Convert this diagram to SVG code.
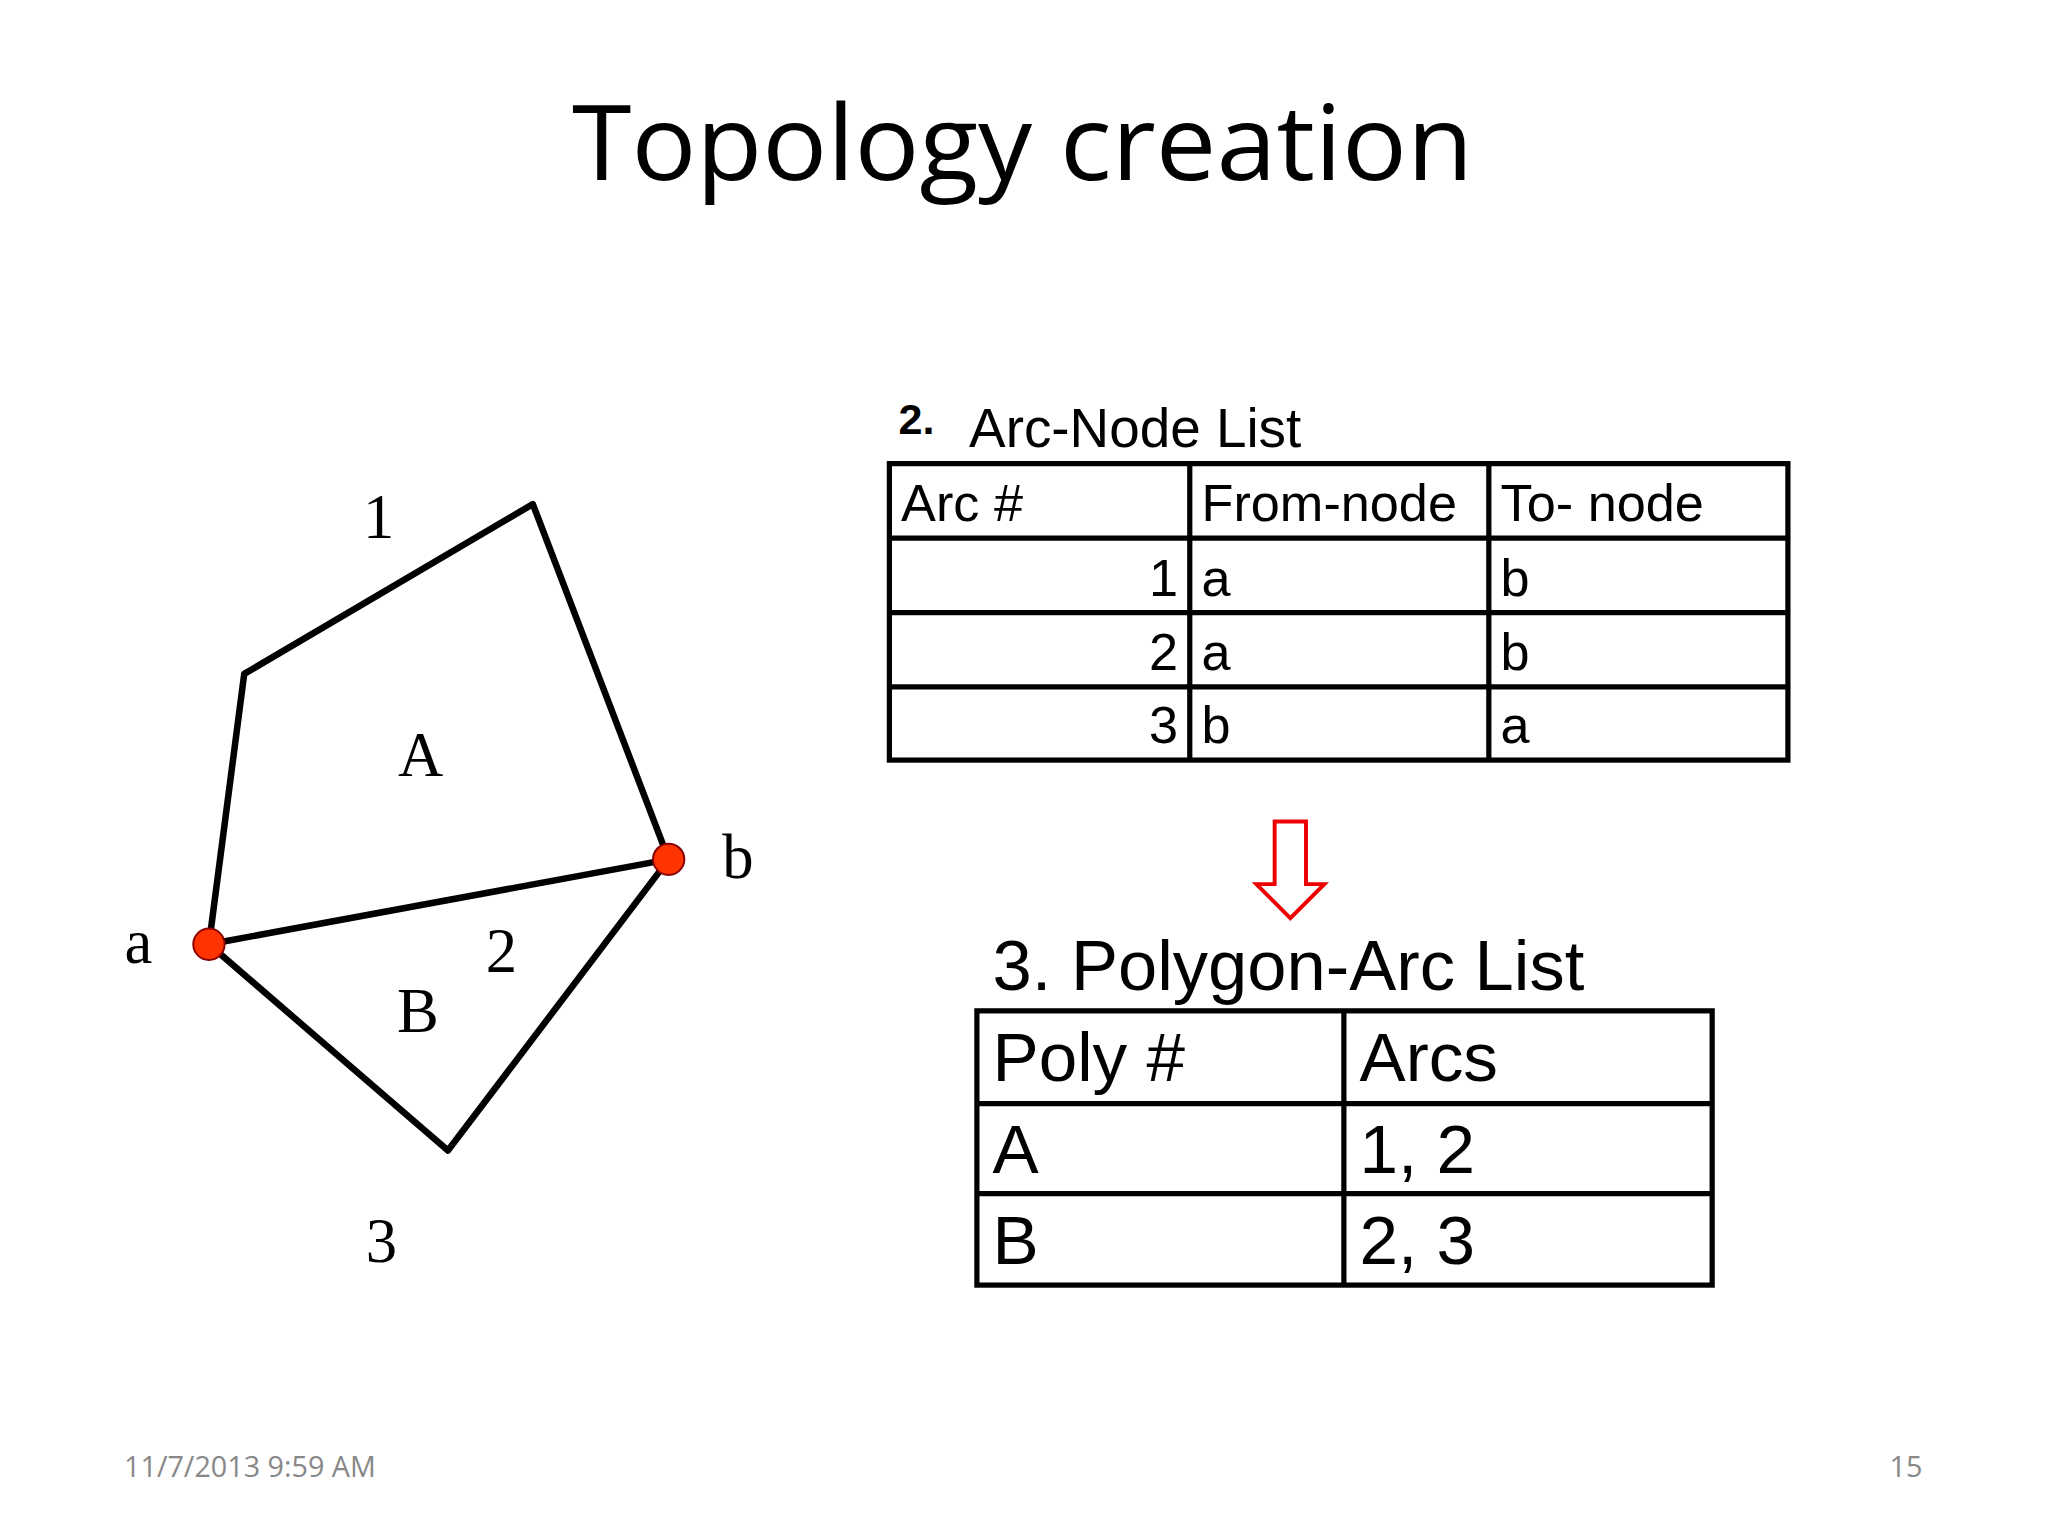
<svg xmlns="http://www.w3.org/2000/svg" width="2048" height="1536" viewBox="0 0 2048 1536">
<style>
.s{font-family:"Liberation Serif",serif;font-size:48px;fill:#000}
.t{font-family:"Liberation Sans",Arial,sans-serif;fill:#000}
.c{font-size:40px}
.d{font-size:53px}
.ln{stroke:#000;stroke-width:5;fill:none;stroke-linecap:round;stroke-linejoin:round}
.tb{stroke:#000;stroke-width:4;fill:none}
</style>
<rect width="2048" height="1536" fill="#fff"/>
<g transform="scale(1.306)">
<text x="783" y="138" text-anchor="middle" font-family="Open Sans, Liberation Sans, sans-serif" font-size="80" textLength="690" lengthAdjust="spacingAndGlyphs">Topology creation</text>
<g id="connectors">
<polyline class="ln" points="160,723 187,516 408,386 512,658 343,881 160,723"/>
<line class="ln" x1="160" y1="723" x2="512" y2="658"/>
</g>
<g id="node-a"><circle cx="160" cy="723" r="12" fill="#ff3300" stroke="#800" stroke-width="1.5"/><text class="s" x="106" y="737" text-anchor="middle">a</text></g>
<g id="node-b"><circle cx="512" cy="658" r="12" fill="#ff3300" stroke="#800" stroke-width="1.5"/><text class="s" x="565" y="672" text-anchor="middle">b</text></g>
<g id="labels">
<text class="s" x="290" y="412" text-anchor="middle">1</text>
<text class="s" x="322" y="594" text-anchor="middle">A</text>
<text class="s" x="384" y="744" text-anchor="middle">2</text>
<text class="s" x="320" y="790" text-anchor="middle">B</text>
<text class="s" x="292" y="966" text-anchor="middle">3</text>
</g>
<g id="arc-node-table">
<text class="t" x="688" y="332" font-size="33" font-weight="bold">2.</text>
<text class="t" x="742" y="342" font-size="42">Arc-Node List</text>
<rect class="tb" x="681" y="355" width="688" height="227"/>
<line class="tb" x1="911" y1="355" x2="911" y2="582"/>
<line class="tb" x1="1140" y1="355" x2="1140" y2="582"/>
<line class="tb" x1="681" y1="412" x2="1369" y2="412"/>
<line class="tb" x1="681" y1="469" x2="1369" y2="469"/>
<line class="tb" x1="681" y1="526" x2="1369" y2="526"/>
<g class="t c">
<text x="690" y="399">Arc #</text><text x="920" y="399">From-node</text><text x="1149" y="399">To- node</text>
<text x="902" y="456" text-anchor="end">1</text><text x="920" y="456">a</text><text x="1149" y="456">b</text>
<text x="902" y="513" text-anchor="end">2</text><text x="920" y="513">a</text><text x="1149" y="513">b</text>
<text x="902" y="569" text-anchor="end">3</text><text x="920" y="569">b</text><text x="1149" y="569">a</text>
</g>
</g>
<g id="arrow"><polygon points="976,629 1000,629 1000,677 1014,677 988,703 962,677 976,677" fill="#fff" stroke="#e00" stroke-width="3"/></g>
<g id="polygon-arc-table">
<text class="t" x="760" y="758" font-size="54">3. Polygon-Arc List</text>
<rect class="tb" x="748" y="774" width="563" height="210"/>
<line class="tb" x1="1029" y1="774" x2="1029" y2="984"/>
<line class="tb" x1="748" y1="845" x2="1311" y2="845"/>
<line class="tb" x1="748" y1="914" x2="1311" y2="914"/>
<g class="t d">
<text x="760" y="828">Poly #</text><text x="1041" y="828">Arcs</text>
<text x="760" y="898">A</text><text x="1041" y="898">1, 2</text>
<text x="760" y="968">B</text><text x="1041" y="968">2, 3</text>
</g>
</g>
<text x="95" y="1131" font-family="Open Sans, Liberation Sans, sans-serif" font-size="22" fill="#888">11/7/2013 9:59 AM</text>
<text x="1472" y="1131" text-anchor="end" font-family="Open Sans, Liberation Sans, sans-serif" font-size="22" fill="#888">15</text>
</g>
</svg>
